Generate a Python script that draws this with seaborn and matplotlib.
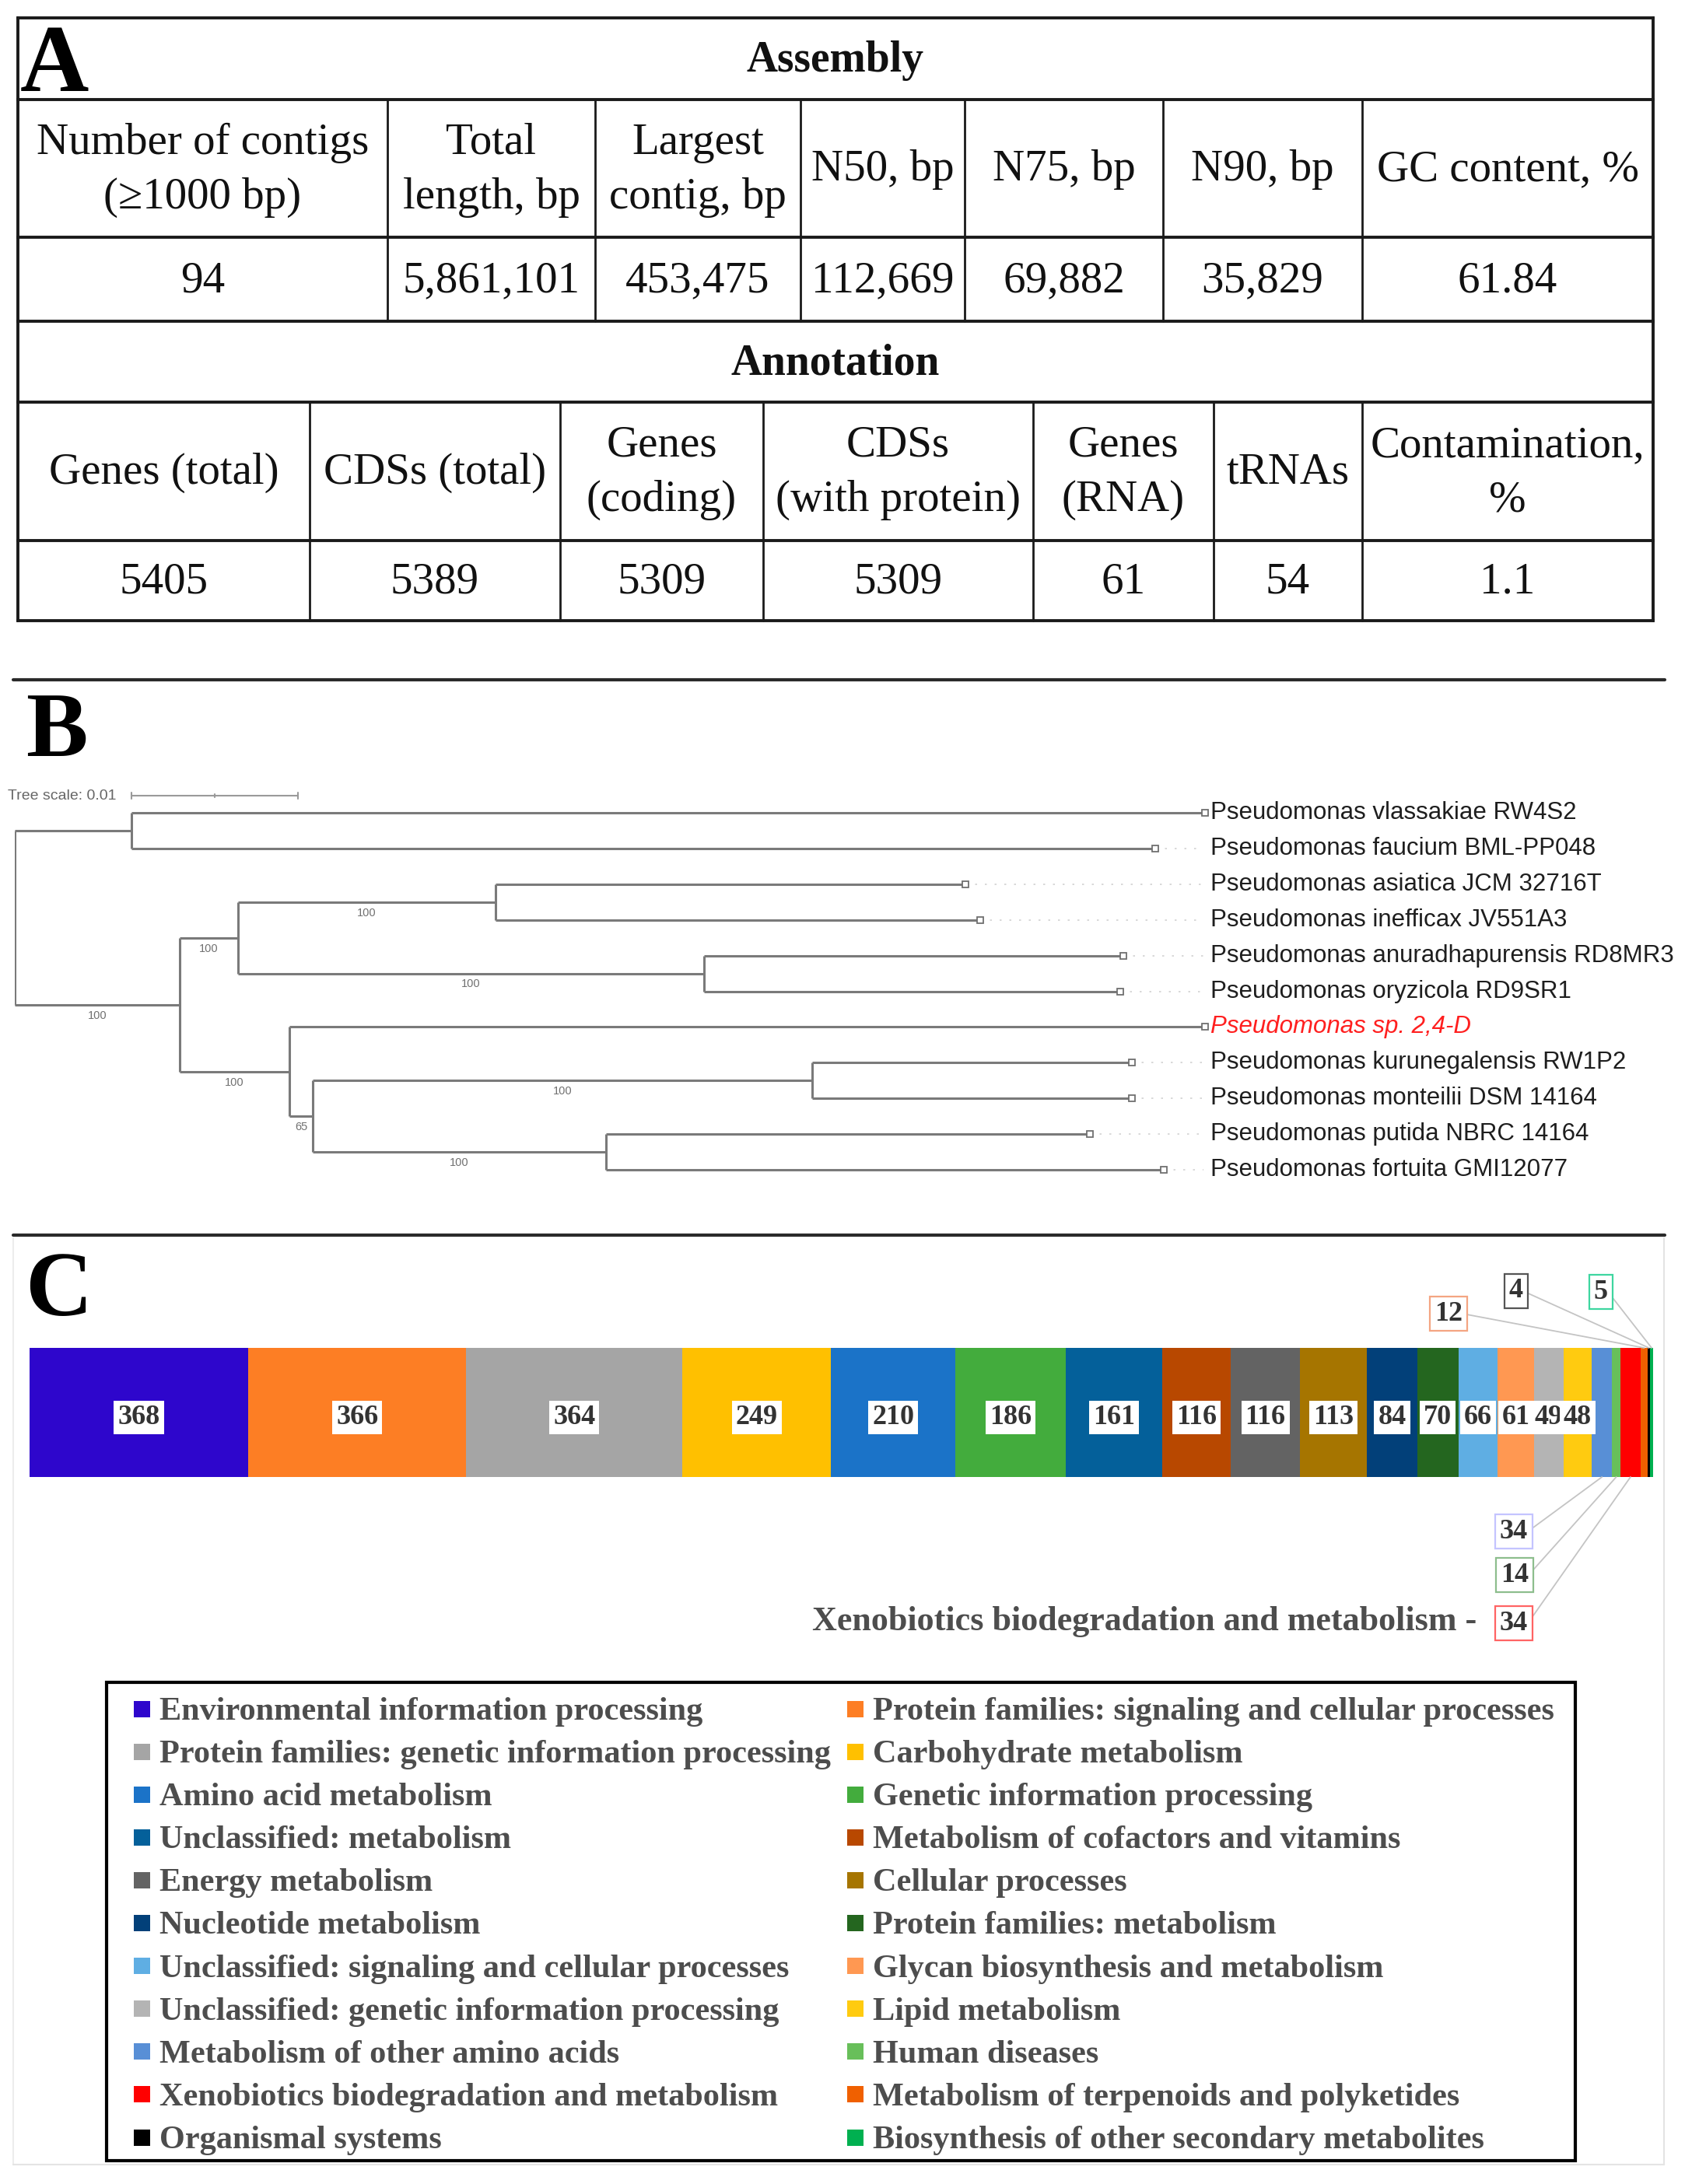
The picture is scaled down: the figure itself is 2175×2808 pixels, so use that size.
import numpy as np
import pandas as pd
import matplotlib
matplotlib.use("Agg")
import matplotlib.pyplot as plt
import seaborn as sns

# ---------------- data ----------------
assembly_headers = ["Number of contigs\n(\u22651000 bp)", "Total\nlength, bp", "Largest\ncontig, bp",
                    "N50, bp", "N75, bp", "N90, bp", "GC content, %"]
assembly_values = ["94", "5,861,101", "453,475", "112,669", "69,882", "35,829", "61.84"]
annotation_headers = ["Genes (total)", "CDSs (total)", "Genes\n(coding)", "CDSs\n(with protein)",
                      "Genes\n(RNA)", "tRNAs", "Contamination,\n%"]
annotation_values = ["5405", "5389", "5309", "5309", "61", "54", "1.1"]

leaf_names = ["Pseudomonas vlassakiae RW4S2", "Pseudomonas faucium BML-PP048",
              "Pseudomonas asiatica JCM 32716T", "Pseudomonas inefficax JV551A3",
              "Pseudomonas anuradhapurensis RD8MR3", "Pseudomonas oryzicola RD9SR1",
              "Pseudomonas sp. 2,4-D", "Pseudomonas kurunegalensis RW1P2",
              "Pseudomonas monteilii DSM 14164", "Pseudomonas putida NBRC 14164",
              "Pseudomonas fortuita GMI12077"]
leaf_depth = [0.0715, 0.0685, 0.0571, 0.0580, 0.0666, 0.0664, 0.0715, 0.0671, 0.0671, 0.0646, 0.0690]
node_ids = ["root", "A", "B", "C", "D", "E", "F", "G", "H", "I"]
node_depth = [0.0, 0.0070, 0.0099, 0.0134, 0.0289, 0.0414, 0.0165, 0.0179, 0.0479, 0.0355]
node_children = [["A", "B"], [0, 1], ["C", "F"], ["D", "E"], [2, 3], [4, 5], [6, "G"], ["H", "I"], [7, 8], [9, 10]]
node_support = [None, None, 100, 100, 100, 100, 100, 65, 100, 100]
highlight_leaf = 6

kegg_categories = ["Environmental information processing", "Protein families: signaling and cellular processes",
                   "Protein families: genetic information processing", "Carbohydrate metabolism",
                   "Amino acid metabolism", "Genetic information processing",
                   "Unclassified: metabolism", "Metabolism of cofactors and vitamins",
                   "Energy metabolism", "Cellular processes",
                   "Nucleotide metabolism", "Protein families: metabolism",
                   "Unclassified: signaling and cellular processes", "Glycan biosynthesis and metabolism",
                   "Unclassified: genetic information processing", "Lipid metabolism",
                   "Metabolism of other amino acids", "Human diseases",
                   "Xenobiotics biodegradation and metabolism", "Metabolism of terpenoids and polyketides",
                   "Organismal systems", "Biosynthesis of other secondary metabolites"]
kegg_counts = [368, 366, 364, 249, 210, 186, 161, 116, 116, 113, 84, 70, 66, 61, 49, 48, 34, 14, 34, 12, 4, 5]
kegg_colors = ["#2E06CC", "#FD7E24", "#A5A5A5", "#FFC000", "#1B73C8", "#43AC3D", "#04609A", "#B84800",
               "#636363", "#A67500", "#024079", "#24661F", "#5FAEE3", "#FF9852", "#B4B4B4", "#FFCB10",
               "#588FD6", "#68BF5A", "#FF0000", "#F06000", "#000000", "#00B050"]

# ---------------- figure ----------------
sns.set_theme(style="white")
plt.rcParams["font.family"] = ["Liberation Serif", "DejaVu Serif"]

W, H = 2175, 2808
fig = plt.figure(figsize=(W / 100, H / 100), dpi=100)


def px_axes(left, top, width, height):
    return fig.add_axes([left / W, 1 - (top + height) / H, width / W, height / H])


ov = px_axes(0, 0, W, H)
ov.set_xlim(0, W)
ov.set_ylim(H, 0)
ov.axis("off")

SERIF = "Liberation Serif"
SANS = "Liberation Sans"

# ---------------- panel A: table ----------------
tl, tr = 23, 2125
rows_y = [23, 128, 305, 413, 517, 695, 798]
asm_cols = [23, 498, 765, 1029, 1240, 1495, 1751, 2125]
ann_cols = [23, 398, 720, 981, 1328, 1560, 1751, 2125]
lc = "#1a1a1a"
for y in rows_y:
    ov.plot([tl, tr], [y, y], color=lc, lw=2.8, solid_capstyle="projecting")
ov.plot([tl, tl], [rows_y[0], rows_y[-1]], color=lc, lw=2.8)
ov.plot([tr, tr], [rows_y[0], rows_y[-1]], color=lc, lw=2.8)
for x in asm_cols[1:-1]:
    ov.plot([x, x], [rows_y[1], rows_y[3]], color=lc, lw=2.0)
for x in ann_cols[1:-1]:
    ov.plot([x, x], [rows_y[4], rows_y[6]], color=lc, lw=2.0)

ov.text((tl + tr) / 2, (rows_y[0] + rows_y[1]) / 2 + 2, "Assembly", ha="center", va="center",
        fontsize=40, fontweight="bold", family=SERIF, color="#111111")
ov.text((tl + tr) / 2, (rows_y[3] + rows_y[4]) / 2 + 2, "Annotation", ha="center", va="center",
        fontsize=40, fontweight="bold", family=SERIF, color="#111111")

for i in range(7):
    cx = (asm_cols[i] + asm_cols[i + 1]) / 2
    ov.text(cx, (rows_y[1] + rows_y[2]) / 2 + 2, assembly_headers[i], ha="center", va="center",
            fontsize=41, family=SERIF, linespacing=1.45, color="#111111")
    ov.text(cx, (rows_y[2] + rows_y[3]) / 2 + 2, assembly_values[i], ha="center", va="center",
            fontsize=41, family=SERIF, color="#111111")
    cx = (ann_cols[i] + ann_cols[i + 1]) / 2
    ov.text(cx, (rows_y[4] + rows_y[5]) / 2 + 2, annotation_headers[i], ha="center", va="center",
            fontsize=41, family=SERIF, linespacing=1.45, color="#111111")
    ov.text(cx, (rows_y[5] + rows_y[6]) / 2 + 2, annotation_values[i], ha="center", va="center",
            fontsize=41, family=SERIF, color="#111111")

# panel letters and separators
ov.text(26, 117, "A", fontsize=88, fontweight="bold", family=SERIF, va="baseline", color="black")
ov.text(33, 972, "B", fontsize=86, fontweight="bold", family=SERIF, va="baseline", color="black")
ov.text(32, 1691, "C", fontsize=86, fontweight="bold", family=SERIF, va="baseline", color="black")
for y in [874, 1588]:
    ov.plot([17, 2140], [y, y], color="#2a2a2a", lw=3.0)
ov.plot([17, 17], [1592, 2783], color="#ececec", lw=1.5)
ov.plot([2139, 2139], [1592, 2783], color="#e4e4e4", lw=1.5)
ov.plot([17, 2139], [2783, 2783], color="#e4e4e4", lw=1.5)

# ---------------- panel B: tree ----------------
x_scale = 21400.0          # pixels per unit of branch length
root_px = 19
leaf0_px, leaf_step = 1045, 45.9
t_top, t_h = 985, 565
axt = px_axes(root_px, t_top, W - root_px, t_h)
axt.set_xlim(0, (W - root_px) / x_scale)
axt.set_ylim((t_top + t_h - leaf0_px) / leaf_step, (t_top - leaf0_px) / leaf_step)
axt.axis("off")


def node_index(c):
    return node_ids.index(c)


def ypos(c):
    if isinstance(c, int):
        return float(c)
    ch = node_children[node_index(c)]
    return (ypos(ch[0]) + ypos(ch[-1])) / 2


def depth(c):
    return leaf_depth[c] if isinstance(c, int) else node_depth[node_index(c)]


branch_c = "#7a7a7a"
for k, nid in enumerate(node_ids):
    ch = node_children[k]
    d0 = node_depth[k]
    axt.plot([d0, d0], [ypos(ch[0]), ypos(ch[-1])], color=branch_c, lw=2.2, solid_capstyle="butt")
    for c in ch:
        axt.plot([d0, depth(c)], [ypos(c), ypos(c)], color=branch_c, lw=2.2, solid_capstyle="butt")
        if not isinstance(c, int):
            sup = node_support[node_index(c)]
            if sup is not None:
                axt.annotate(str(sup), ((d0 + depth(c)) / 2, ypos(c)), xytext=(0, -5),
                             textcoords="offset points", ha="center", va="top",
                             fontsize=10.5, family=SANS, color="#707070")

label_x = (1556 - root_px) / x_scale
for i, name in enumerate(leaf_names):
    axt.plot([leaf_depth[i], label_x - 0.0004], [i, i], color="#d2d2d2", lw=1.2,
             linestyle=(0, (1.5, 6)))
    axt.plot(leaf_depth[i], i, marker="s", ms=5.5, mfc="white", mec="#707070", mew=1.3)
    if i == highlight_leaf:
        axt.text(label_x, i, name, ha="left", va="center", fontsize=22.5, family=SANS,
                 style="italic", color="#ff1f1f")
    else:
        axt.text(label_x, i, name, ha="left", va="center", fontsize=22.5, family=SANS, color="#1e1e1e")

# tree scale
scale_len = 0.01
sb_x0 = (169 - root_px) / x_scale
sb_y = (1023 - leaf0_px) / leaf_step
axt.plot([sb_x0, sb_x0 + scale_len], [sb_y, sb_y], color="#9a9a9a", lw=1.5)
for xx, hh in [(sb_x0, 0.09), (sb_x0 + scale_len / 2, 0.04), (sb_x0 + scale_len, 0.09)]:
    axt.plot([xx, xx], [sb_y - hh, sb_y + hh], color="#9a9a9a", lw=1.5)
ov.text(10, 1023, "Tree scale: 0.01", ha="left", va="center", fontsize=14, family=SANS, color="#666666")

# ---------------- panel C: stacked KEGG bar ----------------
total = sum(kegg_counts)
ends = np.cumsum(kegg_counts)
starts = ends - np.array(kegg_counts)
df = pd.DataFrame({"category": kegg_categories, "end": ends, "row": "KEGG"})

axb = px_axes(38, 1733, 2087, 166)
sns.barplot(data=df, x="end", y="row", hue="category", hue_order=kegg_categories[::-1],
            palette=dict(zip(kegg_categories, kegg_colors)), dodge=False, orient="y",
            width=1.0, saturation=1, errorbar=None, legend=False, linewidth=0, ax=axb)
axb.set_xlim(0, total)
axb.set_ylim(0.5, -0.5)
axb.axis("off")

n_inside = 16
for i in range(n_inside):
    axb.text(starts[i] + kegg_counts[i] / 2, 0.04, str(kegg_counts[i]), ha="center", va="center",
             fontsize=26, fontweight="bold", family=SERIF, color="#333333",
             bbox=dict(boxstyle="square,pad=0.14", fc="white", ec="none"))

# small segments with leader boxes: index, box centre (px), edge colour, side
leader_idx = [19, 20, 21, 16, 17, 18]
leader_pos = [(1862, 1689), (1949, 1660), (2058, 1661), (1946, 1969), (1947, 2025), (1946, 2087)]
leader_edge = ["#F4A582", "#555555", "#3ED6A0", "#C4C4FF", "#8DBE8D", "#FF6464"]
leader_side = [-0.5, -0.5, -0.5, 0.5, 0.5, 0.5]
for k, i in enumerate(leader_idx):
    axb.annotate(str(kegg_counts[i]), xy=(starts[i] + kegg_counts[i] / 2, leader_side[k]),
                 xytext=leader_pos[k], textcoords=ov.transData, ha="center", va="center",
                 fontsize=26, fontweight="bold", family=SERIF, color="#333333",
                 bbox=dict(boxstyle="square,pad=0.16", fc="white", ec=leader_edge[k], lw=1.6),
                 arrowprops=dict(arrowstyle="-", color="#c4c4c4", lw=1.3, relpos=(1, 0.5),
                                 shrinkA=0, shrinkB=0),
                 annotation_clip=False)
ov.text(1898, 2085, kegg_categories[18] + " -", ha="right", va="center", fontsize=31.8,
        fontweight="bold", family=SERIF, color="#4d4d4d")

# legend box (two columns, row-major)
ov.add_patch(plt.Rectangle((137, 2163), 2025 - 137, 2778 - 2163, fill=False, ec="black", lw=3.0))
col_x = [172, 1089]
row0, row_step = 2197, 55.1
for i, (name, col) in enumerate(zip(kegg_categories, kegg_colors)):
    cx = col_x[i % 2]
    cy = row0 + row_step * (i // 2)
    ov.add_patch(plt.Rectangle((cx, cy - 10.5), 21, 21, fc=col, ec="none"))
    ov.text(cx + 33, cy + 14, name, ha="left", va="baseline", fontsize=30.4, fontweight="bold",
            family=SERIF, color="#4d4d4d")

fig.savefig("out.png", dpi=100)
